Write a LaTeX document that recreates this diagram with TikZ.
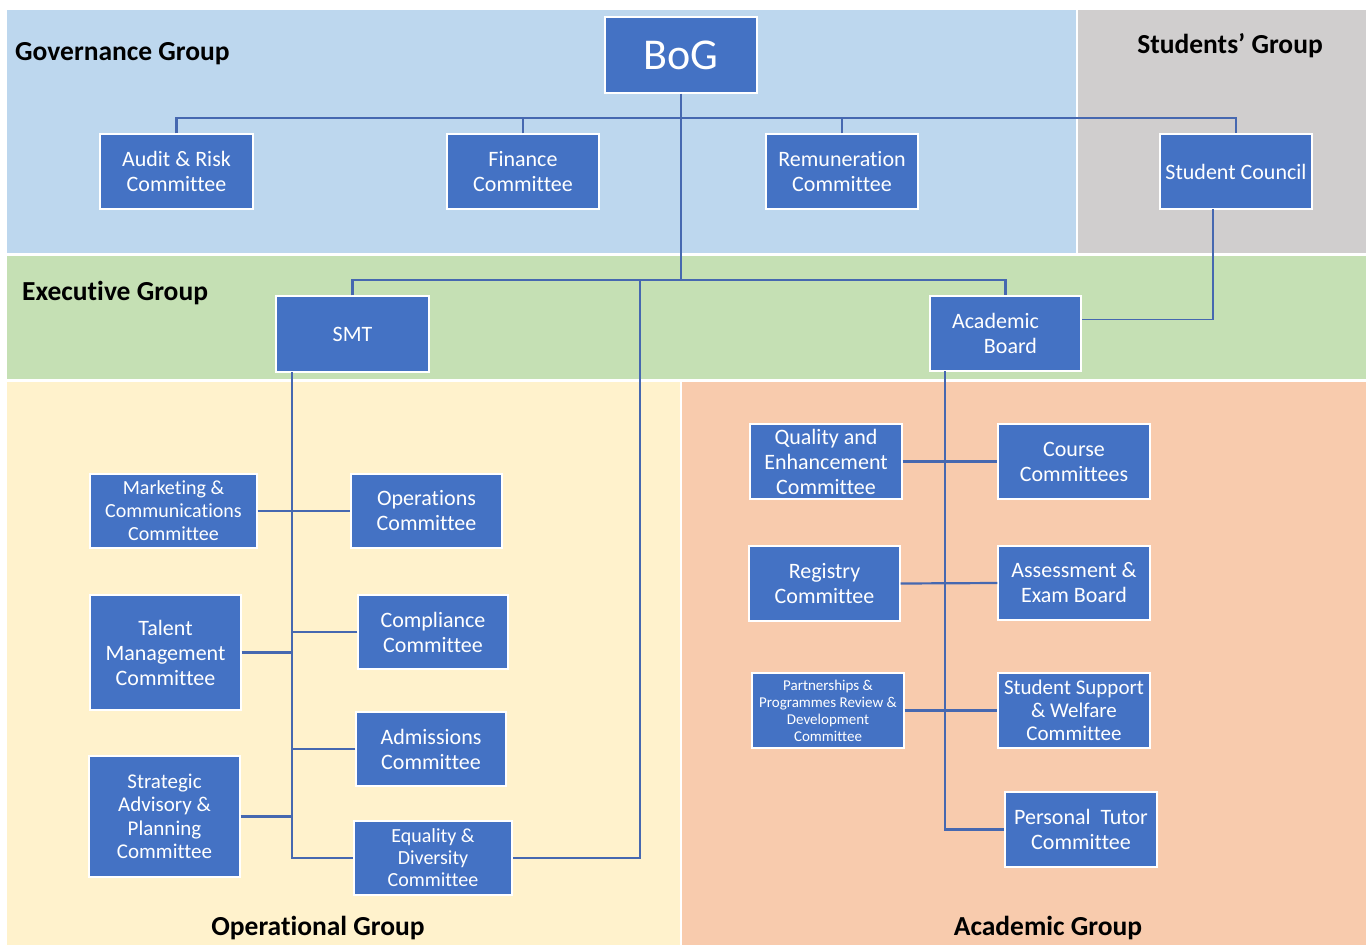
\documentclass[tikz,border=0pt]{standalone}
\usepackage{fontspec}
\setmainfont{Carlito}[Ligatures=NoCommon]
\definecolor{govblue}{HTML}{BDD7EE}
\definecolor{stugrey}{HTML}{D0CECE}
\definecolor{execgreen}{HTML}{C5E0B4}
\definecolor{opyellow}{HTML}{FFF2CC}
\definecolor{acpeach}{HTML}{F8CBAD}
\definecolor{boxblue}{HTML}{4472C4}
\definecolor{linkblue}{HTML}{4668B0}
\begin{document}
\begin{tikzpicture}[x=1pt,y=-1pt,
  box/.style={draw=white, line width=1.2pt, fill=boxblue, text=white, align=center,
    inner sep=0pt, minimum width=152pt, minimum height=75pt,
    font=\fontsize{22}{25}\selectfont},
  conn/.style={draw=linkblue, line width=2.2pt},
  thinconn/.style={draw=linkblue, line width=1.3pt},
  grp/.style={font=\fontsize{27.5}{30}\selectfont\bfseries, text=black, inner sep=0pt}]
\useasboundingbox (0,0) rectangle (1370,945);
\fill[white] (0,0) rectangle (1370,945);
% bands
\fill[govblue] (7,10) rectangle (1076,253);
\fill[stugrey] (1078,10) rectangle (1366,253);
\fill[execgreen] (7,256) rectangle (1366,379);
\fill[opyellow] (7,382) rectangle (680,945);
\fill[acpeach] (682,382) rectangle (1366,945);
% group labels
\node[grp, anchor=west] (gg) at (15,54) {Governance Group};
\node[grp] (sg) at (1230,46) {Students’ Group};
\node[grp, anchor=west] (eg) at (22,293) {Executive Group};
\node[grp] (og) at (318,928) {Operational Group};
\node[grp] (ag) at (1048,928) {Academic Group};
% boxes
\node[box, minimum height=76pt, font=\fontsize{44}{48}\selectfont] (bog) at (681,55) {BoG};
\node[box, minimum width=153pt] (audit) at (176.5,171.5) {Audit \& Risk\\Committee};
\node[box] (fin) at (523,171.5) {Finance\\Committee};
\node[box] (rem) at (842,171.5) {Remuneration\\Committee};
\node[box] (sc) at (1236,171.5) {Student Council};
\node[box, minimum width=153pt, minimum height=76pt] (smt) at (352.5,334) {SMT};
\node[box, minimum width=151pt] (ab) at (1005.5,333.5) {Academic\hspace*{20pt}\\\hspace*{10pt}Board};
% operational
\node[box, minimum width=167pt, minimum height=74pt, font=\fontsize{20}{23}\selectfont] (mkt) at (173.5,511) {Marketing \&\\Communications\\Committee};
\node[box, minimum width=151pt, minimum height=74pt] (ops) at (426.5,511) {Operations\\Committee};
\node[box, minimum width=151pt, minimum height=115pt] (tal) at (165.5,652.5) {Talent\\Management\\Committee};
\node[box, minimum width=150pt, minimum height=74pt] (comp) at (433,632) {Compliance\\Committee};
\node[box, minimum width=150pt, minimum height=74pt] (adm) at (431,749) {Admissions\\Committee};
\node[box, minimum width=151pt, minimum height=121pt, font=\fontsize{21}{23.5}\selectfont] (str) at (164.5,816.5) {Strategic\\Advisory \&\\Planning\\Committee};
\node[box, minimum width=158pt, minimum height=74pt, font=\fontsize{20}{22}\selectfont] (eq) at (433,858) {Equality \&\\Diversity\\Committee};
% academic
\node[box] (qual) at (826,461.5) {Quality and\\Enhancement\\Committee};
\node[box] (course) at (1074,461.5) {Course\\Committees};
\node[box, minimum width=151pt] (reg) at (824.5,583.5) {Registry\\Committee};
\node[box, minimum height=74pt] (assess) at (1074,583) {Assessment \&\\Exam Board};
\node[box, font=\fontsize{15}{17}\selectfont] (part) at (828,710.5) {Partnerships \&\\Programmes Review \&\\Development\\Committee};
\node[box, font=\fontsize{21}{23}\selectfont] (ssup) at (1074,710.5) {Student Support\\\& Welfare\\Committee};
\node[box] (pt) at (1081,829.5) {Personal\ \ Tutor\\Committee};
% coordinates
\coordinate (gbar) at (681,118);
\coordinate (ebar) at (681,280);
\coordinate (jn) at (640,280);
\coordinate (smtv) at (292,372);
\coordinate (abv) at (945,371);
\coordinate (scv) at (1213,209);
% connectors
\draw[conn] (bog.south) -- (ebar);
\draw[conn] (audit.north) |- (gbar) -| (sc.north);
\draw[conn] (fin.north) -- (fin.north |- gbar);
\draw[conn] (rem.north) -- (rem.north |- gbar);
\draw[conn] (smt.north) |- (ebar) -| (ab.north);
\draw[conn] (jn) |- (eq.east);
\draw[thinconn] (scv) |- ([yshift=14pt]ab.east);
\draw[conn] (smtv) |- (eq.west);
\draw[conn] (mkt.east) -- (ops.west);
\draw[conn] (tal.east) -- (tal.east -| smtv);
\draw[conn] (comp.west) -- (comp.west -| smtv);
\draw[conn] (adm.west) -- (adm.west -| smtv);
\draw[conn] (str.east) -- (str.east -| smtv);
\draw[conn] (abv) |- (pt.west);
\draw[conn] (qual.east) -- (course.west);
\draw[conn] (reg.east) -- (assess.west);
\draw[conn] (part.east) -- (ssup.west);
\end{tikzpicture}
\end{document}
